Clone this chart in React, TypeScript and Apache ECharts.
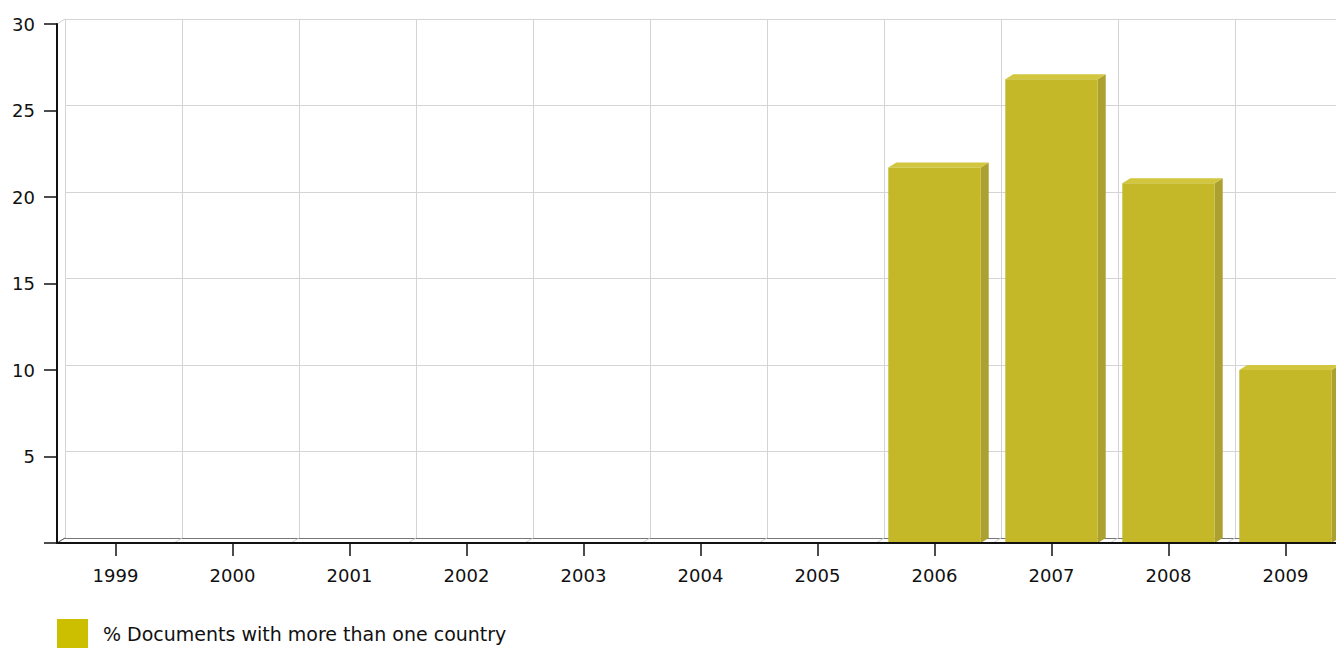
import React, { useEffect, useRef } from "react";
import * as echarts from "echarts";

const categories = ["1999", "2000", "2001", "2002", "2003", "2004", "2005", "2006", "2007", "2008", "2009"];
const values = [0, 0, 0, 0, 0, 0, 0, 21.7, 26.8, 20.8, 10.0];
const seriesName = "% Documents with more than one country";
const yMin = 0;
const yMax = 30;
const yInterval = 5;

const DX = 8;
const DY = 5;
const FONT = "DejaVu Sans, Verdana, sans-serif";

export default function App() {
  const ref = useRef<HTMLDivElement>(null);

  useEffect(() => {
    document.body.style.margin = "0";
    const chart = echarts.init(ref.current!, null, { renderer: "svg" });

    const gridW = 117 * categories.length;
    const gridH = 519;

    const option: any = {
      animation: false,
      backgroundColor: "#ffffff",
      grid: [
        { left: 57, top: 24, width: gridW, height: gridH, containLabel: false },
        { left: 57 + DX, top: 24 - DY, width: gridW, height: gridH, containLabel: false },
      ],
      legend: {
        left: 57,
        top: 619,
        padding: 0,
        itemWidth: 31,
        itemHeight: 30,
        icon: "rect",
        data: [{ name: seriesName, itemStyle: { color: "#ccbf00" } }],
        textStyle: { fontFamily: FONT, fontSize: 19, color: "#111", padding: [0, 0, 0, 10] },
        selectedMode: false,
      },
      xAxis: [
        {
          type: "category",
          gridIndex: 0,
          data: categories,
          boundaryGap: true,
          axisLine: { show: true, lineStyle: { color: "#111", width: 2 } },
          axisTick: { show: true, interval: 0, alignWithLabel: true, length: 13, lineStyle: { color: "#111", width: 1.5 } },
          axisLabel: { fontFamily: FONT, fontSize: 18, color: "#111", margin: 23, interval: 0 },
          splitLine: { show: false },
          z: 10,
        },
        {
          type: "category",
          gridIndex: 1,
          data: categories,
          boundaryGap: true,
          axisLine: { show: true, lineStyle: { color: "#777", width: 1 } },
          axisTick: { show: false },
          axisLabel: { show: false },
          splitLine: { show: true, interval: 0, lineStyle: { color: "#d4d4d4", width: 1 } },
        },
      ],
      yAxis: [
        {
          type: "value",
          gridIndex: 0,
          min: yMin,
          max: yMax,
          interval: yInterval,
          axisLine: { show: true, lineStyle: { color: "#111", width: 2 } },
          axisTick: { show: true, length: 13, lineStyle: { color: "#111", width: 1.5 } },
          axisLabel: {
            fontFamily: FONT,
            fontSize: 18,
            color: "#111",
            margin: 22,
            formatter: (v: number) => (v === 0 ? "" : String(v)),
          },
          splitLine: { show: false },
          z: 10,
        },
        {
          type: "value",
          gridIndex: 1,
          min: yMin,
          max: yMax,
          interval: yInterval,
          axisLine: { show: false },
          axisTick: { show: false },
          axisLabel: { show: false },
          splitLine: { show: true, lineStyle: { color: "#d4d4d4", width: 1 } },
        },
      ],
      series: [
        {
          name: "floor",
          type: "custom",
          xAxisIndex: 0,
          yAxisIndex: 0,
          silent: true,
          z: 1,
          data: categories.map((_, i) => [i]),
          renderItem: (params: any, api: any) => {
            const i = api.value(0);
            const c = api.coord([i, yMin]);
            const top = api.coord([i, yMax]);
            const bw = api.size([1, 0])[0];
            const x = c[0] - bw / 2;
            const children: any[] = [
              {
                type: "line",
                shape: { x1: x, y1: c[1], x2: x + DX, y2: c[1] - DY },
                style: { stroke: "#cfcfcf", lineWidth: 1 },
              },
            ];
            if (i === 0) {
              children.push({
                type: "line",
                shape: { x1: x, y1: top[1], x2: x + DX, y2: top[1] - DY },
                style: { stroke: "#cfcfcf", lineWidth: 1 },
              });
              children.push({
                type: "line",
                shape: { x1: x, y1: c[1], x2: x + DX, y2: c[1] - DY },
                style: { stroke: "#555", lineWidth: 1 },
              });
            }
            return { type: "group", children };
          },
        },
        {
          name: seriesName,
          type: "custom",
          xAxisIndex: 0,
          yAxisIndex: 0,
          z: 5,
          data: values.map((v, i) => [i, v]),
          renderItem: (params: any, api: any) => {
            const v = api.value(1);
            if (!v) return { type: "group", children: [] };
            const i = api.value(0);
            const t = api.coord([i, v]);
            const b = api.coord([i, 0]);
            const bw = api.size([1, 0])[0] * 0.79;
            const x0 = t[0] - bw / 2;
            const x1 = x0 + bw;
            return {
              type: "group",
              children: [
                {
                  type: "polygon",
                  shape: { points: [[x1, t[1]], [x1 + DX, t[1] - DY], [x1 + DX, b[1] - DY], [x1, b[1]]] },
                  style: { fill: "#aca030" },
                },
                {
                  type: "polygon",
                  shape: { points: [[x0, t[1]], [x0 + DX, t[1] - DY], [x1 + DX, t[1] - DY], [x1, t[1]]] },
                  style: { fill: "#d2c63e" },
                },
                {
                  type: "rect",
                  shape: { x: x0, y: t[1], width: bw, height: b[1] - t[1] },
                  style: { fill: "#c4b829" },
                },
              ],
            };
          },
        },
      ],
    };

    chart.setOption(option);
    return () => chart.dispose();
  }, []);

  return (
    <div style={{ width: 1336, height: 648, overflow: "hidden", position: "relative" }}>
      <div ref={ref} style={{ width: 1360, height: 648 }} />
    </div>
  );
}
